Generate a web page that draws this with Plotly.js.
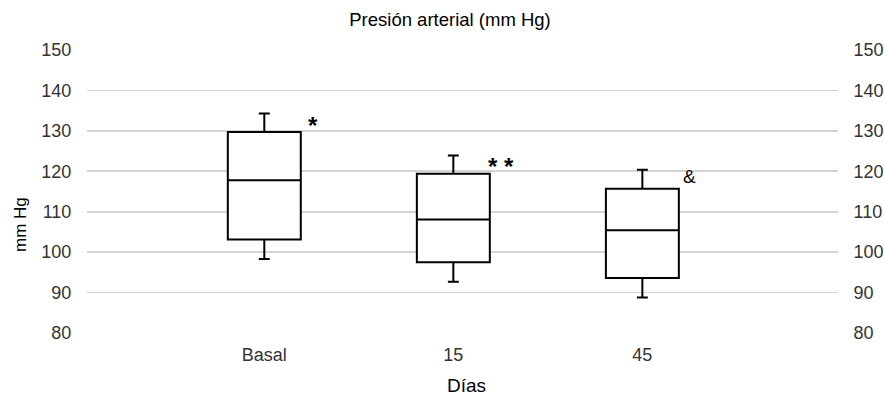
<!DOCTYPE html>
<html>
<head>
<meta charset="utf-8">
<script src="https://cdn.plot.ly/plotly-3.0.1.min.js"></script>
<style>html,body{margin:0;padding:0;background:#fff;}#chart{width:884px;height:396px;}</style>
</head>
<body>
<div id="chart"></div>
<script>
// Data
const categories = ["Basal", "15", "45"];
const lowerFence = [98.3, 92.7, 88.8];
const q1Values   = [103.1, 97.5, 93.6];
const medians    = [117.8, 108.1, 105.4];
const q3Values   = [129.7, 119.4, 115.7];
const upperFence = [134.3, 123.9, 120.4];
const marks      = ["*", "* *", "&"];
const yTicks     = [80, 90, 100, 110, 120, 130, 140, 150];

const FONT = "Liberation Sans, Arial, sans-serif";
const tickColor = "#333333";

const trace = {
  type: "box",
  x: categories,
  q1: q1Values,
  median: medians,
  q3: q3Values,
  lowerfence: lowerFence,
  upperfence: upperFence,
  width: 0.386,
  whiskerwidth: 0.15,
  fillcolor: "#ffffff",
  line: {color: "#000000", width: 2},
  boxpoints: false,
  hoverinfo: "skip",
  showlegend: false
};

const dummy = {type: "scatter", x: [categories[0]], y: [null], yaxis: "y2", showlegend: false, hoverinfo: "skip"};

const markStyle = [
  {size: 24, bold: true, xshift: 42, yshift: 7},
  {size: 24, bold: true, xshift: 33, yshift: 7},
  {size: 19, bold: false, xshift: 39, yshift: 12}
];
const annotations = marks.map((m, i) => ({
  x: i, y: q3Values[i], xref: "x", yref: "y",
  text: markStyle[i].bold ? "<b>" + m + "</b>" : m, showarrow: false, xanchor: "left", yanchor: "middle",
  xshift: markStyle[i].xshift, yshift: markStyle[i].yshift,
  font: {family: FONT, size: markStyle[i].size, color: "#000000"}
}));
annotations.push({
  text: "mm Hg", xref: "paper", yref: "paper", x: (20 - 87) / 751, y: (333 - 225) / 283,
  textangle: -90, showarrow: false, xanchor: "center", yanchor: "middle",
  font: {family: FONT, size: 17, color: "#000000"}
});
annotations.push({
  text: "Días", xref: "paper", yref: "paper", x: (466 - 87) / 751, y: (333 - 397) / 283,
  showarrow: false, xanchor: "center", yanchor: "bottom", borderpad: 0,
  font: {family: FONT, size: 19, color: "#000000"}
});

const yCommon = {
  range: [80, 150], tickvals: yTicks, ticktext: yTicks.map(String),
  tickfont: {family: FONT, size: 18, color: tickColor},
  ticks: "outside", ticklen: 11, tickcolor: "rgba(0,0,0,0)",
  showline: false, zeroline: false, fixedrange: true
};

const layout = {
  width: 884, height: 396,
  margin: {l: 87, r: 46, t: 50, b: 63},
  paper_bgcolor: "#ffffff", plot_bgcolor: "#ffffff",
  title: {text: "Presión arterial (mm Hg)", x: 450 / 884, xanchor: "center", y: 1 - 20 / 396, yanchor: "middle",
          font: {family: FONT, size: 18.5, color: "#000000"}},
  xaxis: {
    type: "category", range: [-0.938, 3.035],
    tickfont: {family: FONT, size: 18, color: tickColor},
    ticks: "outside", ticklen: 5, tickcolor: "rgba(0,0,0,0)",
    showgrid: false, showline: false, zeroline: false, fixedrange: true
  },
  yaxis: Object.assign({}, yCommon, {side: "left", showgrid: true, gridcolor: "#d4d4d4", gridwidth: 1.6}),
  yaxis2: Object.assign({}, yCommon, {side: "right", overlaying: "y", anchor: "x", showgrid: false}),
  annotations: annotations,
  showlegend: false
};

Plotly.newPlot("chart", [trace, dummy], layout, {staticPlot: true, displayModeBar: false});
</script>
</body>
</html>
